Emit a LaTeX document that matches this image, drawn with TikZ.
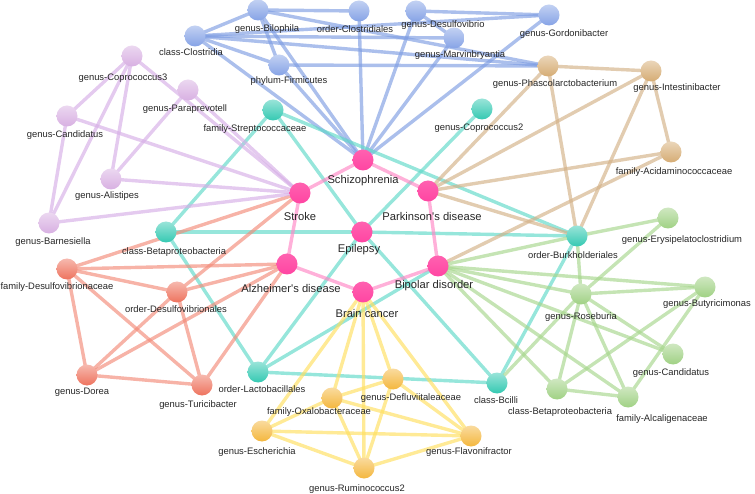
\documentclass[tikz,border=0pt]{standalone}
\usepackage{fontspec}
\setmainfont{Liberation Sans}
\usetikzlibrary{backgrounds}

\definecolor{cDis}{HTML}{FF45A2}
\definecolor{cBlue}{HTML}{86A3E6}
\definecolor{cPurp}{HTML}{D8B0E2}
\definecolor{cTeal}{HTML}{34C9B2}
\definecolor{cTan}{HTML}{D6AC74}
\definecolor{cGreen}{HTML}{A0D184}
\definecolor{cRed}{HTML}{EE735E}
\definecolor{cYel}{HTML}{F4B73E}
\definecolor{eDis}{HTML}{FF86C4}
\definecolor{eBlue}{HTML}{7E9DE2}
\definecolor{ePurp}{HTML}{D6AEE6}
\definecolor{eTeal}{HTML}{5ED8C8}
\definecolor{eTan}{HTML}{D3B086}
\definecolor{eGreen}{HTML}{A6D68C}
\definecolor{eRed}{HTML}{F28A78}
\definecolor{eYel}{HTML}{FFDF5E}

\begin{document}
\begin{tikzpicture}[x=1pt, y=-1pt,
    ball/.style={circle, minimum size=21pt, inner sep=0pt, shading angle=40,
        top color=#1!50!white, bottom color=#1},
    dis/.style={circle, minimum size=21pt, inner sep=0pt, shading angle=40,
        top color=#1!85!white, bottom color=#1},
    lab/.style={font=\fontsize{9.4}{10}\selectfont, text=black!85, inner sep=0pt},
    dlab/.style={font=\fontsize{11.2}{13}\selectfont, text=black!85, inner sep=0pt},
    link/.style={line width=3.4pt, draw=#1, draw opacity=0.65}]
\useasboundingbox (0,0) rectangle (755,494);

% diseases
\foreach \n/\x/\y/\lx/\ly/\t in {schiz/363/160/363/181/Schizophrenia,
    stroke/300/193/300/216/Stroke, park/428/191/432/216/Parkinson\textquotesingle s disease,
    epil/362/232/359/250/Epilepsy, alz/287/264/291/288/Alzheimer\textquotesingle s disease,
    bipo/438/266/434/286/Bipolar disorder, brain/363/292/367/313/Brain cancer}
  {\node[dis=cDis] (\n) at (\x,\y) {};
   \node[dlab] (\n-l) at (\lx,\ly) {\t};}

% blue group
\foreach \n/\x/\y/\lx/\ly/\t in {clos/195/36/191/52/class-Clostridia,
    bilo/258/10/267/29/genus-Bilophila, oclo/359/11/355/29/order-Clostridiales,
    firm/279/65/289/81/phylum-Firmicutes, desu/416/11/443/25/genus-Desulfovibrio,
    gord/549/15/564/34/genus-Gordonibacter, marv/454/38/460/55/genus-Marvinbryantia}
  {\node[ball=cBlue] (\n) at (\x,\y) {};
   \node[lab] (\n-l) at (\lx,\ly) {\t};}

% tan group
\foreach \n/\x/\y/\lx/\ly/\t in {phas/548/66/555/84/genus-Phascolarctobacterium,
    inte/651/71/677/88/genus-Intestinibacter,
    acid/671/152/674/172/family-Acidaminococcaceae}
  {\node[ball=cTan] (\n) at (\x,\y) {};
   \node[lab] (\n-l) at (\lx,\ly) {\t};}

% teal group
\foreach \n/\x/\y/\lx/\ly/\t in {cop2/482/109/479/128/genus-Coprococcus2,
    strep/273/110/255/129/family-Streptococcaceae,
    cbeta/166/232/174/252/class-Betaproteobacteria,
    burk/577/236/573/255/order-Burkholderiales,
    lacto/258/372/262/389/order-Lactobacillales, bcil/497/383/496/400/class-Bcilli}
  {\node[ball=cTeal] (\n) at (\x,\y) {};
   \node[lab] (\n-l) at (\lx,\ly) {\t};}

% purple group
\foreach \n/\x/\y/\lx/\ly/\t in {cop3/132/56/123/78/genus-Coprococcus3,
    para/188/90/185/109/genus-Paraprevotell, cand/67/116/65/135/genus-Candidatus,
    alis/111/179/107/196/genus-Alistipes, barn/49/223/53/242/genus-Barnesiella}
  {\node[ball=cPurp] (\n) at (\x,\y) {};
   \node[lab] (\n-l) at (\lx,\ly) {\t};}

% red group
\foreach \n/\x/\y/\lx/\ly/\t in {dfam/67/269/57/287/family-Desulfovibrionaceae,
    dord/177/292/176/309/order-Desulfovibrionales, dore/87/375/82/392/genus-Dorea,
    turi/202/385/198/405/genus-Turicibacter}
  {\node[ball=cRed] (\n) at (\x,\y) {};
   \node[lab] (\n-l) at (\lx,\ly) {\t};}

% yellow group
\foreach \n/\x/\y/\lx/\ly/\t in {oxal/332/398/319/412/family-Oxalobacteraceae,
    defl/393/379/411/398/genus-Defluviitaleaceae, esch/262/431/257/452/genus-Escherichia,
    flav/471/436/469/452/genus-Flavonifractor, rumi/364/468/357/489/genus-Ruminococcus2}
  {\node[ball=cYel] (\n) at (\x,\y) {};
   \node[lab] (\n-l) at (\lx,\ly) {\t};}

% green group
\foreach \n/\x/\y/\lx/\ly/\t in {erys/668/218/682/240/genus-Erysipelatoclostridium,
    rose/581/294/581/317/genus-Roseburia, buty/705/287/707/304/genus-Butyricimonas,
    gcan/673/354/671/373/genus-Candidatus, gbeta/557/389/560/412/class-Betaproteobacteria,
    alca/628/397/662/419/family-Alcaligenaceae}
  {\node[ball=cGreen] (\n) at (\x,\y) {};
   \node[lab] (\n-l) at (\lx,\ly) {\t};}

\begin{scope}[on background layer]
\foreach \a/\b in {clos/bilo, clos/firm, clos/marv, clos/phas, clos/gord, clos/schiz,
    bilo/oclo, bilo/firm, bilo/phas, bilo/schiz, oclo/schiz, firm/phas, firm/schiz,
    desu/gord, desu/marv, desu/schiz, marv/schiz, gord/schiz}
  \draw[link=eBlue] (\a.center) -- (\b.center);
\foreach \a/\b in {strep/cbeta, strep/epil, strep/burk, cop2/epil, epil/lacto,
    epil/bcil, cbeta/epil, epil/burk, cbeta/lacto, lacto/bcil, lacto/bipo, bcil/burk}
  \draw[link=eTeal] (\a.center) -- (\b.center);
\foreach \a/\b in {phas/inte, phas/park, phas/burk, inte/park, inte/acid, inte/burk,
    acid/park, park/burk, acid/bipo}
  \draw[link=eTan] (\a.center) -- (\b.center);
\foreach \a/\b in {burk/erys, burk/rose, burk/bipo, erys/rose, bipo/rose, bipo/buty,
    bipo/gcan, bipo/alca, bipo/gbeta, rose/buty, rose/gcan, rose/alca, rose/gbeta,
    rose/bcil, buty/gbeta, buty/alca, gbeta/alca}
  \draw[link=eGreen] (\a.center) -- (\b.center);
\foreach \a/\b in {stroke/dfam, stroke/dord, dfam/alz, dfam/dord, dfam/dore, dfam/turi,
    dord/alz, dord/dore, dord/turi, dore/turi, dore/alz, turi/alz}
  \draw[link=eRed] (\a.center) -- (\b.center);
\foreach \a/\b in {brain/esch, brain/oxal, brain/rumi, brain/defl, brain/flav,
    esch/oxal, oxal/defl, esch/flav, esch/rumi, oxal/flav, oxal/rumi, defl/flav,
    defl/rumi, rumi/flav}
  \draw[link=eYel] (\a.center) -- (\b.center);
\foreach \a/\b in {cop3/cand, cop3/alis, cop3/barn, cop3/stroke, para/alis,
    para/stroke, cand/barn, cand/stroke, alis/stroke, barn/stroke}
  \draw[link=ePurp] (\a.center) -- (\b.center);
\foreach \a/\b in {schiz/stroke, schiz/park, stroke/alz, park/bipo, alz/brain, brain/bipo}
  \draw[link=eDis] (\a.center) -- (\b.center);
\end{scope}
\end{tikzpicture}
\end{document}
